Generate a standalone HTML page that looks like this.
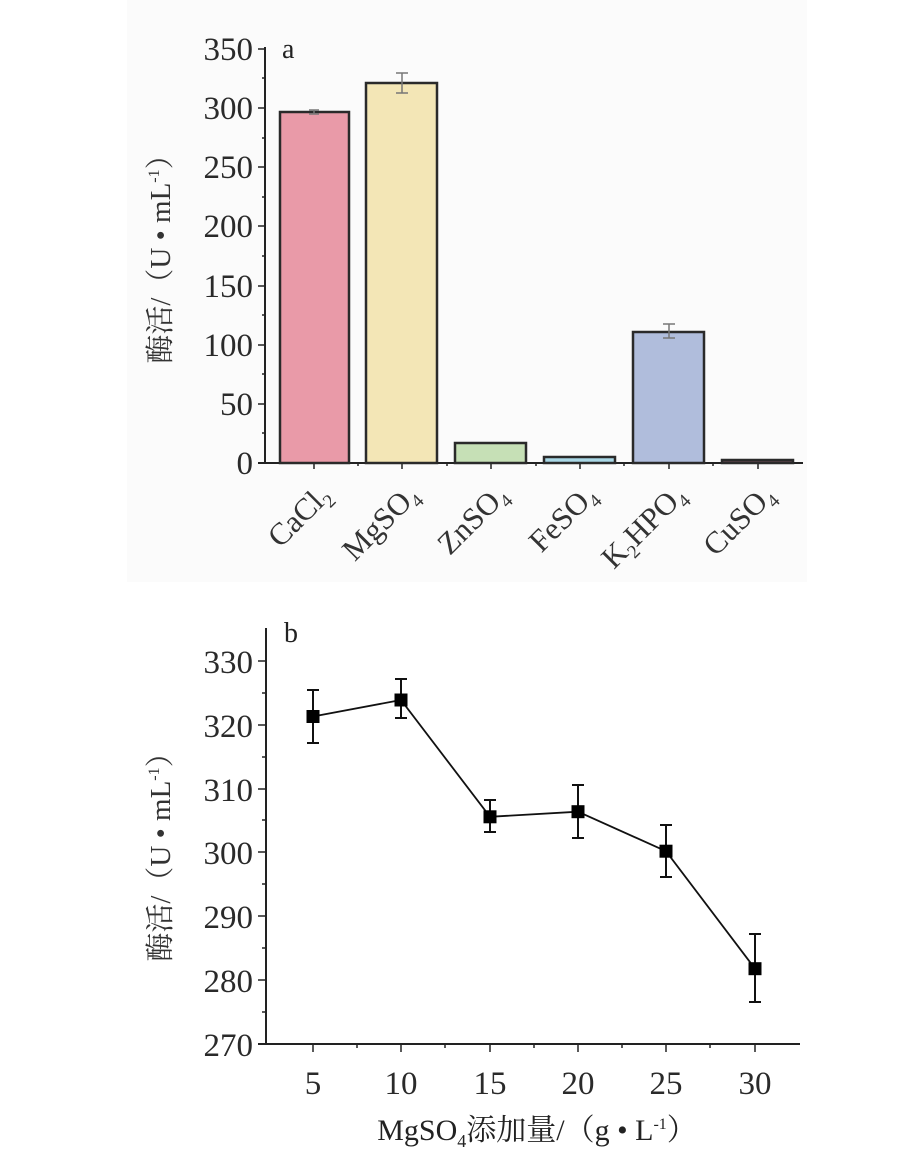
<!DOCTYPE html>
<html><head><meta charset="utf-8"><style>html,body{margin:0;padding:0;background:#fff}svg{display:block}</style></head>
<body>
<svg width="916" height="1175" viewBox="0 0 916 1175" xmlns="http://www.w3.org/2000/svg" font-family="Liberation Serif, serif" fill="#222">
<rect x="127" y="0" width="680" height="582" fill="#fbfbfb"/>
<!-- Panel a -->
<g stroke="#222" stroke-width="2">
<line x1="265" y1="47" x2="265" y2="464"/>
<line x1="258" y1="463" x2="803" y2="463"/>
</g>
<g stroke="#222" stroke-width="1.5">
<line x1="258" y1="49" x2="265" y2="49"/><line x1="258" y1="108" x2="265" y2="108"/><line x1="258" y1="167" x2="265" y2="167"/><line x1="258" y1="226" x2="265" y2="226"/><line x1="258" y1="286" x2="265" y2="286"/><line x1="258" y1="345" x2="265" y2="345"/><line x1="258" y1="404" x2="265" y2="404"/>
<line x1="262" y1="78" x2="265" y2="78"/><line x1="262" y1="138" x2="265" y2="138"/><line x1="262" y1="197" x2="265" y2="197"/><line x1="262" y1="256" x2="265" y2="256"/><line x1="262" y1="315" x2="265" y2="315"/><line x1="262" y1="374" x2="265" y2="374"/><line x1="262" y1="433" x2="265" y2="433"/>
<line x1="314" y1="463" x2="314" y2="469"/><line x1="402" y1="463" x2="402" y2="469"/><line x1="491" y1="463" x2="491" y2="469"/><line x1="580" y1="463" x2="580" y2="469"/><line x1="669" y1="463" x2="669" y2="469"/><line x1="758" y1="463" x2="758" y2="469"/>
<line x1="358" y1="463" x2="358" y2="466"/><line x1="447" y1="463" x2="447" y2="466"/><line x1="536" y1="463" x2="536" y2="466"/><line x1="624" y1="463" x2="624" y2="466"/><line x1="713" y1="463" x2="713" y2="466"/>
</g>
<g stroke="#2a2a2a" stroke-width="2.5">
<rect x="280" y="112" width="69" height="351" fill="#e99aa8"/>
<rect x="366" y="83" width="71" height="380" fill="#f3e6b6"/>
<rect x="455" y="443" width="71" height="20" fill="#c6e0b6"/>
<rect x="544" y="457" width="71" height="6" fill="#a9d8e6"/>
<rect x="633" y="332" width="71" height="131" fill="#b0bddc"/>
<rect x="722" y="460" width="71" height="3" fill="#6b4a55"/>
</g>
<g stroke="#777" stroke-width="1.5">
<line x1="314" y1="110" x2="314" y2="114"/><line x1="309" y1="110" x2="319" y2="110"/><line x1="309" y1="114" x2="319" y2="114"/>
<line x1="402" y1="73" x2="402" y2="93"/><line x1="396" y1="73" x2="408" y2="73"/><line x1="396" y1="93" x2="408" y2="93"/>
<line x1="669" y1="324" x2="669" y2="338"/><line x1="663" y1="324" x2="675" y2="324"/><line x1="663" y1="338" x2="675" y2="338"/>
</g>
<g font-size="33" text-anchor="end" fill="#2a2a2a">
<text x="253" y="60">350</text><text x="253" y="119">300</text><text x="253" y="178">250</text><text x="253" y="237">200</text><text x="253" y="297">150</text><text x="253" y="356">100</text><text x="253" y="415">50</text><text x="253" y="474">0</text>
</g>
<text x="282" y="58" font-size="28">a</text>
<text transform="translate(170,252) rotate(-90)" font-size="29" text-anchor="middle" fill="#333" font-family="Liberation Serif, Noto Serif CJK SC, serif">酶活/（U • mL<tspan font-size="16" dy="-11">-1</tspan><tspan dy="11">）</tspan></text>
<g font-size="31" text-anchor="end" fill="#333">
<text transform="translate(332,497) rotate(-45)">CaCl<tspan font-size="19" dy="7">2</tspan></text>
<text transform="translate(420,497) rotate(-45)">MgSO<tspan font-size="19" dy="7">4</tspan></text>
<text transform="translate(509,497) rotate(-45)">ZnSO<tspan font-size="19" dy="7">4</tspan></text>
<text transform="translate(598,497) rotate(-45)">FeSO<tspan font-size="19" dy="7">4</tspan></text>
<text transform="translate(687,497) rotate(-45)">K<tspan font-size="19" dy="7">2</tspan><tspan dy="-7">HPO</tspan><tspan font-size="19" dy="7">4</tspan></text>
<text transform="translate(776,497) rotate(-45)">CuSO<tspan font-size="19" dy="7">4</tspan></text>
</g>
<!-- Panel b -->
<g stroke="#222" stroke-width="2">
<line x1="266" y1="628" x2="266" y2="1045"/>
<line x1="258" y1="1044" x2="800" y2="1044"/>
</g>
<g stroke="#222" stroke-width="1.5">
<line x1="258" y1="661" x2="266" y2="661"/><line x1="258" y1="725" x2="266" y2="725"/><line x1="258" y1="789" x2="266" y2="789"/><line x1="258" y1="852" x2="266" y2="852"/><line x1="258" y1="916" x2="266" y2="916"/><line x1="258" y1="980" x2="266" y2="980"/>
<line x1="262" y1="693" x2="266" y2="693"/><line x1="262" y1="757" x2="266" y2="757"/><line x1="262" y1="820" x2="266" y2="820"/><line x1="262" y1="884" x2="266" y2="884"/><line x1="262" y1="948" x2="266" y2="948"/><line x1="262" y1="1012" x2="266" y2="1012"/>
<line x1="313" y1="1044" x2="313" y2="1052"/><line x1="401" y1="1044" x2="401" y2="1052"/><line x1="490" y1="1044" x2="490" y2="1052"/><line x1="578" y1="1044" x2="578" y2="1052"/><line x1="666" y1="1044" x2="666" y2="1052"/><line x1="755" y1="1044" x2="755" y2="1052"/>
<line x1="357" y1="1044" x2="357" y2="1048"/><line x1="445" y1="1044" x2="445" y2="1048"/><line x1="534" y1="1044" x2="534" y2="1048"/><line x1="622" y1="1044" x2="622" y2="1048"/><line x1="710" y1="1044" x2="710" y2="1048"/>
</g>
<polyline points="313,716.5 401,700 490,816.8 578,811.7 666,851.2 755,968.7" fill="none" stroke="#111" stroke-width="1.8"/>
<g stroke="#111" stroke-width="2">
<line x1="313" y1="690" x2="313" y2="743"/><line x1="307" y1="690" x2="319" y2="690"/><line x1="307" y1="743" x2="319" y2="743"/>
<line x1="401" y1="679" x2="401" y2="718"/><line x1="395" y1="679" x2="407" y2="679"/><line x1="395" y1="718" x2="407" y2="718"/>
<line x1="490" y1="800" x2="490" y2="832"/><line x1="484" y1="800" x2="496" y2="800"/><line x1="484" y1="832" x2="496" y2="832"/>
<line x1="578" y1="785" x2="578" y2="838"/><line x1="572" y1="785" x2="584" y2="785"/><line x1="572" y1="838" x2="584" y2="838"/>
<line x1="666" y1="825" x2="666" y2="877"/><line x1="660" y1="825" x2="672" y2="825"/><line x1="660" y1="877" x2="672" y2="877"/>
<line x1="755" y1="934" x2="755" y2="1002"/><line x1="749" y1="934" x2="761" y2="934"/><line x1="749" y1="1002" x2="761" y2="1002"/>
</g>
<g fill="#000">
<rect x="306.5" y="710" width="13" height="13"/><rect x="394.5" y="693.5" width="13" height="13"/><rect x="483.5" y="810.3" width="13" height="13"/><rect x="571.5" y="805.2" width="13" height="13"/><rect x="659.5" y="844.7" width="13" height="13"/><rect x="748.5" y="962.2" width="13" height="13"/>
</g>
<g font-size="33" text-anchor="end" fill="#2a2a2a">
<text x="253" y="673">330</text><text x="253" y="737">320</text><text x="253" y="801">310</text><text x="253" y="864">300</text><text x="253" y="928">290</text><text x="253" y="992">280</text><text x="253" y="1056">270</text>
</g>
<g font-size="33" text-anchor="middle" fill="#2a2a2a">
<text x="313" y="1094">5</text><text x="401" y="1094">10</text><text x="490" y="1094">15</text><text x="578" y="1094">20</text><text x="666" y="1094">25</text><text x="755" y="1094">30</text>
</g>
<text x="284" y="642" font-size="28">b</text>
<text transform="translate(170,850) rotate(-90)" font-size="29" text-anchor="middle" fill="#333" font-family="Liberation Serif, Noto Serif CJK SC, serif">酶活/（U • mL<tspan font-size="16" dy="-11">-1</tspan><tspan dy="11">）</tspan></text>
<text x="537" y="1140" font-size="30" text-anchor="middle" fill="#222" font-family="Liberation Serif, Noto Serif CJK SC, serif">MgSO<tspan font-size="18" dy="7">4</tspan><tspan dy="-7">添加量/（g • L</tspan><tspan font-size="16" dy="-11">-1</tspan><tspan dy="11">）</tspan></text>
</svg>
</body></html>
